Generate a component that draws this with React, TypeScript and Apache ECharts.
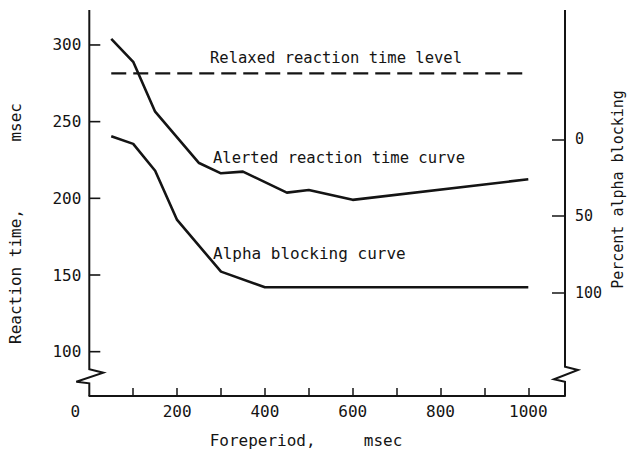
import React, { useEffect, useRef } from "react";
import * as echarts from "echarts";

// Foreperiod (msec) vs. alerted reaction time (msec)
const alertedForeperiods = [50, 100, 150, 250, 300, 350, 450, 500, 600, 1000];
const alertedRT = [304, 289, 256.5, 223, 216.3, 217.4, 203.7, 205.4, 199, 212.4];

// Foreperiod (msec) vs. percent alpha blocking
const alphaForeperiods = [50, 100, 150, 200, 300, 400, 1000];
const alphaBlocking = [-2, 3, 20.5, 52.6, 86.3, 96.5, 96.5];

// Relaxed reaction time level (msec), drawn across this foreperiod span
const relaxedRT = 281.5;
const relaxedSpan = [50, 1000];

// Tick labels
const rtTicks = [100, 150, 200, 250, 300];
const pctTicks = [0, 50, 100];
const foreperiodLabels = [0, 200, 400, 600, 800, 1000];
const foreperiodTicks = [100, 200, 300, 400, 500, 600, 700, 800, 900, 1000];

// Axis extents (both vertical axes share one scale; the right one is reversed)
const X_MIN = 0;
const X_MAX = 1083.6;
const RT_MIN = 71.1;
const RT_MAX = 322.8;
const PCT_MIN = -84.3;
const PCT_MAX = 167.4;

const INK = "#141414";
const FONT = "DejaVu Sans Mono";

export default function App() {
  const ref = useRef<HTMLDivElement>(null);

  useEffect(() => {
    document.body.style.margin = "0";
    const chart = echarts.init(ref.current!, null, { renderer: "svg" });

    const labelBase = { color: INK, fontFamily: FONT, fontSize: 16 };
    // the vertical axis lines are drawn separately (with their break marks)
    const hiddenLine = { show: true, onZero: false, lineStyle: { color: "rgba(0,0,0,0)", width: 0 } };

    chart.setOption({
      animation: false,
      backgroundColor: "#ffffff",
      grid: { left: 89.3, right: 67, top: 10, bottom: 55 },
      xAxis: {
        type: "value",
        min: X_MIN,
        max: X_MAX,
        axisLine: { show: true, onZero: false, lineStyle: { color: INK, width: 2 } },
        axisTick: {
          show: true,
          inside: true,
          length: 8,
          customValues: foreperiodTicks,
          lineStyle: { color: INK, width: 1.5 },
        },
        axisLabel: {
          ...labelBase,
          margin: 7,
          customValues: foreperiodLabels,
          formatter: (v: number) => (v === 0 ? "{z|0}" : String(v)),
          rich: { z: { ...labelBase, padding: [0, 28, 0, 0] } },
        },
        splitLine: { show: false },
      },
      yAxis: [
        {
          type: "value",
          position: "left",
          min: RT_MIN,
          max: RT_MAX,
          axisLine: hiddenLine,
          axisTick: { show: false },
          axisLabel: { ...labelBase, margin: 8, customValues: rtTicks },
          splitLine: { show: false },
        },
        {
          type: "value",
          position: "right",
          inverse: true,
          min: PCT_MIN,
          max: PCT_MAX,
          axisLine: hiddenLine,
          axisTick: {
            show: true,
            inside: true,
            length: 13,
            customValues: pctTicks,
            lineStyle: { color: INK, width: 1.5 },
          },
          axisLabel: { ...labelBase, fontSize: 15, margin: 10, customValues: pctTicks },
          splitLine: { show: false },
        },
      ],
      series: [
        {
          name: "Relaxed reaction time level",
          type: "line",
          yAxisIndex: 0,
          symbol: "none",
          data: relaxedSpan.map((x) => [x, relaxedRT]),
          lineStyle: { color: INK, width: 2.2, type: [15, 7] },
        },
        {
          name: "Alerted reaction time curve",
          type: "line",
          yAxisIndex: 0,
          symbol: "none",
          data: alertedForeperiods.map((x, i) => [x, alertedRT[i]]),
          lineStyle: { color: INK, width: 2.6 },
        },
        {
          name: "Alpha blocking curve",
          type: "line",
          yAxisIndex: 1,
          symbol: "none",
          data: alphaForeperiods.map((x, i) => [x, alphaBlocking[i]]),
          lineStyle: { color: INK, width: 2.6 },
        },
      ],
    });

    // Vertical axis lines with a break zigzag near the bottom
    const [xl, yTop] = chart.convertToPixel({ gridIndex: 0 }, [X_MIN, RT_MAX]) as number[];
    const [xr, yBot] = chart.convertToPixel({ gridIndex: 0 }, [X_MAX, RT_MIN]) as number[];
    const axisStyle = { stroke: INK, lineWidth: 2, fill: null };

    // Reaction-time ticks, pointing into the plot from the left axis
    const rtTickMarks = rtTicks.map((v) => {
      const p = chart.convertToPixel({ gridIndex: 0 }, [X_MIN, v]) as number[];
      return {
        type: "polyline",
        shape: { points: [[xl, p[1]], [xl + 11, p[1]]] },
        style: { stroke: INK, lineWidth: 1.6, fill: null },
        z: 100,
      };
    });

    chart.setOption({
      graphic: [
        ...rtTickMarks,
        {
          type: "polyline",
          shape: {
            points: [
              [xl, yTop],
              [xl, yBot - 26.7],
              [xl + 14, yBot - 23.3],
              [xl - 13, yBot - 14.3],
              [xl, yBot - 12.7],
              [xl, yBot],
            ],
          },
          style: axisStyle,
        },
        {
          type: "polyline",
          shape: {
            points: [
              [xr, yTop],
              [xr, yBot - 29.3],
              [xr + 13, yBot - 26],
              [xr - 11, yBot - 16.7],
              [xr, yBot - 14.3],
              [xr, yBot],
            ],
          },
          style: axisStyle,
        },
        {
          type: "text",
          x: 210,
          y: 58,
          style: {
            text: "Relaxed reaction time level",
            fill: INK,
            font: `15.5px '${FONT}'`,
            align: "left",
            verticalAlign: "middle",
          },
        },
        {
          type: "text",
          x: 213,
          y: 158,
          style: {
            text: "Alerted reaction time curve",
            fill: INK,
            font: `15.5px '${FONT}'`,
            align: "left",
            verticalAlign: "middle",
          },
        },
        {
          type: "text",
          x: 213,
          y: 253,
          style: {
            text: "Alpha blocking curve",
            fill: INK,
            font: `16px '${FONT}'`,
            align: "left",
            verticalAlign: "middle",
          },
        },
        {
          type: "text",
          x: 15,
          y: 223.5,
          rotation: Math.PI / 2,
          style: {
            text: "Reaction time,       msec",
            fill: INK,
            font: `16px '${FONT}'`,
            align: "center",
            verticalAlign: "middle",
          },
        },
        {
          type: "text",
          x: 618,
          y: 189.5,
          rotation: Math.PI / 2,
          style: {
            text: "Percent alpha blocking",
            fill: INK,
            font: `15px '${FONT}'`,
            align: "center",
            verticalAlign: "middle",
          },
        },
        {
          type: "text",
          x: 306,
          y: 440,
          style: {
            text: "Foreperiod,     msec",
            fill: INK,
            font: `16px '${FONT}'`,
            align: "center",
            verticalAlign: "middle",
          },
        },
      ],
    });

    return () => chart.dispose();
  }, []);

  return <div ref={ref} style={{ width: 632, height: 451 }} />;
}
